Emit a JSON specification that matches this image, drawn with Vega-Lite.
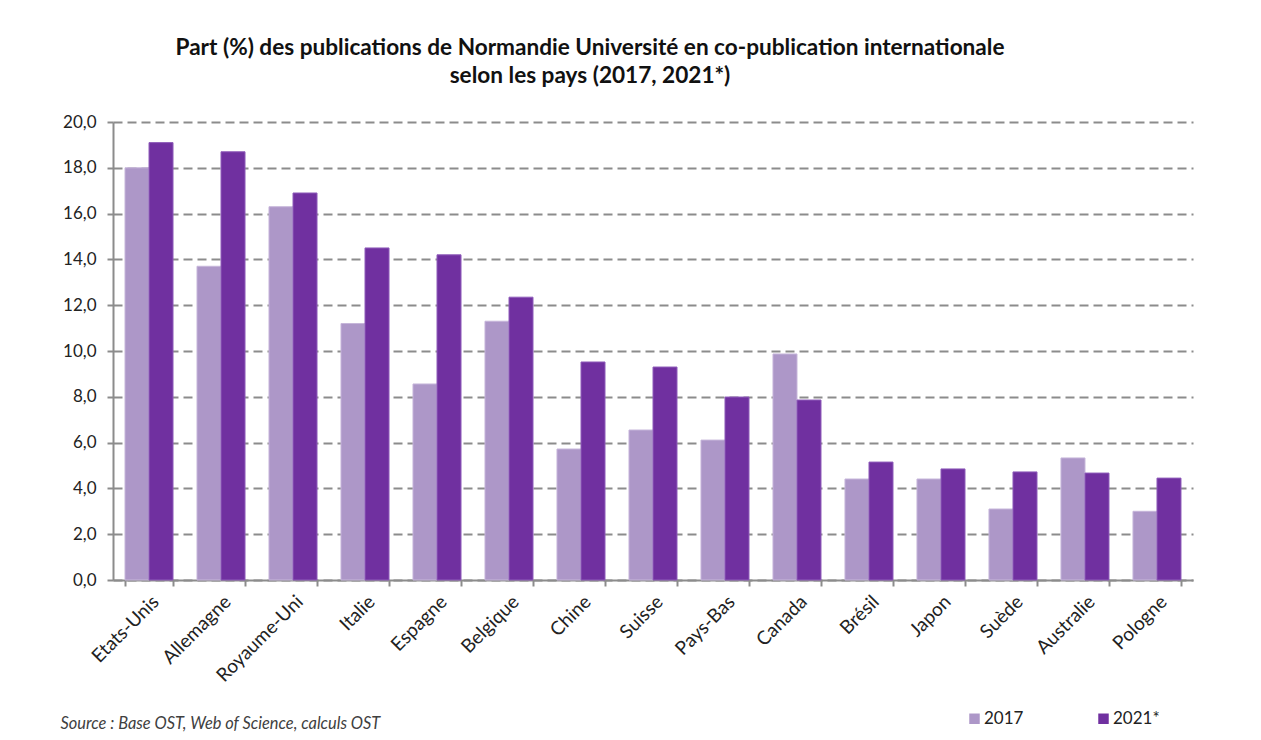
{
  "$schema": "https://vega.github.io/schema/vega-lite/v6.json",
  "width": 1080,
  "height": 458,
  "autosize": {"type": "none"},
  "padding": {"left": 113, "top": 122, "right": 68, "bottom": 160},
  "background": "white",
  "title": {
    "text": ["Part (%) des publications de Normandie Université  en co-publication internationale", "selon les pays (2017, 2021*)"],
    "font": "Lato",
    "fontSize": 22.6,
    "fontWeight": "bold",
    "color": "#111111",
    "lineHeight": 28,
    "anchor": "middle",
    "dx": -63,
    "offset": 25
  },
  "data": {
    "values": [
      {"pays": "Etats-Unis", "annee": "2017", "part": 18.0},
      {"pays": "Etats-Unis", "annee": "2021*", "part": 19.1},
      {"pays": "Allemagne", "annee": "2017", "part": 13.7},
      {"pays": "Allemagne", "annee": "2021*", "part": 18.7},
      {"pays": "Royaume-Uni", "annee": "2017", "part": 16.3},
      {"pays": "Royaume-Uni", "annee": "2021*", "part": 16.9},
      {"pays": "Italie", "annee": "2017", "part": 11.2},
      {"pays": "Italie", "annee": "2021*", "part": 14.5},
      {"pays": "Espagne", "annee": "2017", "part": 8.56},
      {"pays": "Espagne", "annee": "2021*", "part": 14.2},
      {"pays": "Belgique", "annee": "2017", "part": 11.3},
      {"pays": "Belgique", "annee": "2021*", "part": 12.35},
      {"pays": "Chine", "annee": "2017", "part": 5.72},
      {"pays": "Chine", "annee": "2021*", "part": 9.52},
      {"pays": "Suisse", "annee": "2017", "part": 6.55},
      {"pays": "Suisse", "annee": "2021*", "part": 9.3},
      {"pays": "Pays-Bas", "annee": "2017", "part": 6.11},
      {"pays": "Pays-Bas", "annee": "2021*", "part": 7.99},
      {"pays": "Canada", "annee": "2017", "part": 9.87},
      {"pays": "Canada", "annee": "2021*", "part": 7.86},
      {"pays": "Brésil", "annee": "2017", "part": 4.41},
      {"pays": "Brésil", "annee": "2021*", "part": 5.15},
      {"pays": "Japon", "annee": "2017", "part": 4.41},
      {"pays": "Japon", "annee": "2021*", "part": 4.85},
      {"pays": "Suède", "annee": "2017", "part": 3.1},
      {"pays": "Suède", "annee": "2021*", "part": 4.72},
      {"pays": "Australie", "annee": "2017", "part": 5.33},
      {"pays": "Australie", "annee": "2021*", "part": 4.67},
      {"pays": "Pologne", "annee": "2017", "part": 3.0},
      {"pays": "Pologne", "annee": "2021*", "part": 4.45}
    ]
  },
  "mark": {"type": "bar", "strokeWidth": 1},
  "encoding": {
    "x": {
      "field": "pays",
      "type": "nominal",
      "sort": null,
      "scale": {"paddingInner": 0.333, "paddingOuter": 0.1667},
      "axis": {
        "title": "Source : Base OST, Web of Science, calculs OST",
        "titleFont": "Lato",
        "titleFontSize": 16.4,
        "titleFontStyle": "italic",
        "titleFontWeight": "normal",
        "titleColor": "#404040",
        "titleAlign": "left",
        "titleAnchor": "start",
        "titleBaseline": "alphabetic",
        "titleX": -53,
        "titleY": 148,
        "labelAngle": -45,
        "labelFont": "Lato",
        "labelFontSize": 19,
        "labelColor": "#222222",
        "labelPadding": 6,
        "labelDx": 3,
        "tickBand": "extent",
        "tickSize": 6,
        "tickWidth": 2,
        "tickColor": "#8c8c8c",
        "domainColor": "#8c8c8c",
        "domainWidth": 2,
        "grid": false
      }
    },
    "xOffset": {"field": "annee", "type": "nominal"},
    "y": {
      "field": "part",
      "type": "quantitative",
      "scale": {"domain": [0, 20], "nice": false},
      "axis": {
        "title": null,
        "values": [0, 2, 4, 6, 8, 10, 12, 14, 16, 18, 20],
        "labelExpr": "replace(format(datum.value, '.1f'), '.', ',')",
        "labelFont": "Lato",
        "labelFontSize": 17,
        "labelColor": "#222222",
        "labelPadding": 11,
        "tickSize": 6,
        "tickWidth": 2,
        "tickColor": "#8c8c8c",
        "domainColor": "#8c8c8c",
        "domainWidth": 2,
        "grid": true,
        "gridColor": "#8c8c8c",
        "gridWidth": 2,
        "gridDash": [9, 5]
      }
    },
    "color": {
      "field": "annee",
      "type": "nominal",
      "scale": {"domain": ["2017", "2021*"], "range": ["#AD97C8", "#7030A0"]},
      "legend": {
        "title": null,
        "orient": "none",
        "direction": "horizontal",
        "legendX": 853,
        "legendY": 588,
        "symbolType": "square",
        "symbolSize": 110,
        "symbolStrokeWidth": 0,
        "labelFont": "Lato",
        "labelFontSize": 17,
        "labelColor": "#222222",
        "labelOffset": 1,
        "columnPadding": 71
      }
    },
    "stroke": {
      "field": "annee",
      "type": "nominal",
      "scale": {"domain": ["2017", "2021*"], "range": ["#C6B6DA", "#8F5DBA"]},
      "legend": null
    }
  },
  "config": {
    "view": {"stroke": null}
  }
}
